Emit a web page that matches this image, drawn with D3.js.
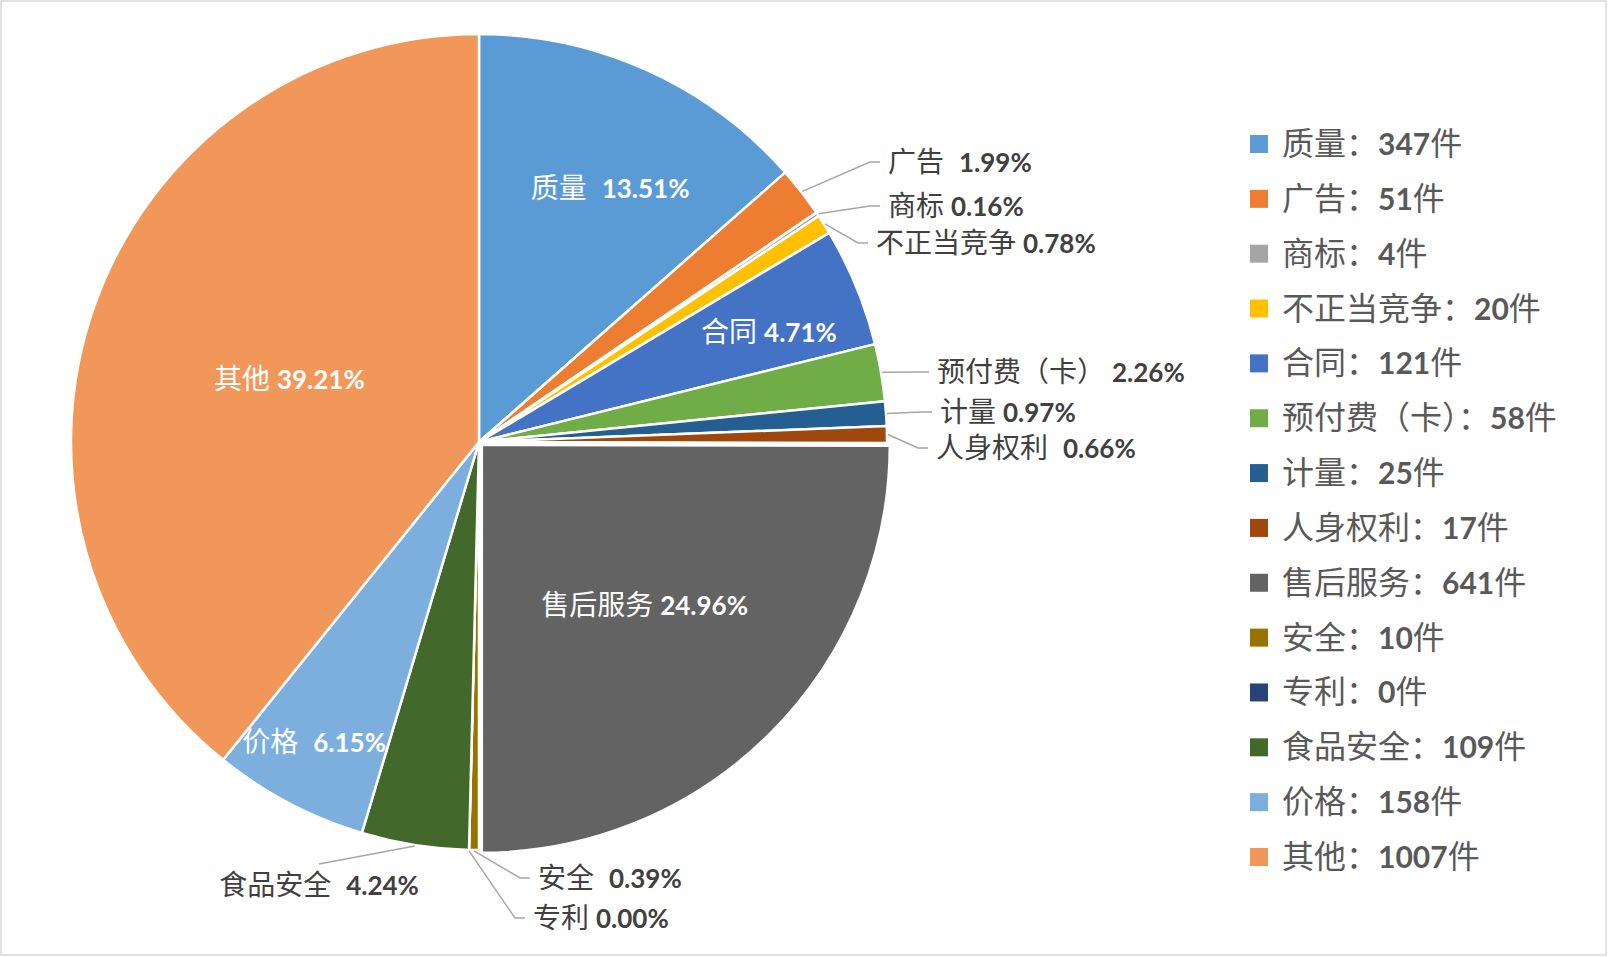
<!DOCTYPE html>
<html>
<head>
<meta charset="utf-8">
<script src="https://cdn.jsdelivr.net/npm/d3@7"></script>
<style>
  body { margin: 0; background: #fff; }
  svg { display: block; }
</style>
</head>
<body>
<div id="app"></div>
<script>
// data
const categories = ['质量', '广告', '商标', '不正当竞争', '合同', '预付费（卡）', '计量',
  '人身权利', '售后服务', '安全', '专利', '食品安全', '价格', '其他']
const counts = [347, 51, 4, 20, 121, 58, 25, 17, 641, 10, 0, 109, 158, 1007]
const colors = ['#5B9BD5', '#ED7D31', '#A5A5A5', '#FFC000', '#4472C4', '#70AD47', '#255E91',
  '#9E480E', '#636363', '#997300', '#264478', '#43682B', '#7CAFDD', '#F1975A']

// labels that have a wider gap between the name and the percent
const wideGap = ['质量', '广告', '人身权利', '安全', '食品安全', '价格']

// layout
const W = 1608, H = 957
const cx = 479, cy = 442, r = 408
const cjk = '"Noto Sans CJK SC", sans-serif'
const num = 'Lato, "Noto Sans", sans-serif'

// inside labels: fraction of the radius and a small turn (degrees) off the bisector
const insideR = {
  '质量': [0.70, 3],
  '合同': [0.76, 1.6],
  '售后服务': [0.56, -0.5],
  '价格': [0.84, 1],
  '其他': [0.49, -1]
}
// outside labels: left x (or centre x for 'below') and middle y
const outside = {
  '广告': [888, 162, 'right'],
  '商标': [888, 206, 'right'],
  '不正当竞争': [876, 243, 'right'],
  '预付费（卡）': [937, 372, 'right'],
  '计量': [940, 412, 'right'],
  '人身权利': [936, 448, 'right'],
  '安全': [538, 878, 'right'],
  '专利': [533, 918, 'right'],
  '食品安全': [319, 885, 'below']
}
const explode = { '售后服务': 4 }

const svg = d3.select('#app').append('svg')
  .attr('width', W)
  .attr('height', H)

svg.append('rect')
  .attr('x', 1).attr('y', 1)
  .attr('width', W - 3).attr('height', H - 3)
  .attr('fill', '#fff')
  .attr('stroke', '#d9d9d9')
  .attr('stroke-width', 1.5)

const data = categories.map((name, i) => ({ name, count: counts[i], color: colors[i] }))
const total = d3.sum(counts)
const pct = d3.format('.2%')

const pie = d3.pie().sort(null).value(d => d.count)
const arcs = pie(data)
const arc = d3.arc().innerRadius(0).outerRadius(r)
const mid = d => (d.startAngle + d.endAngle) / 2
const polar = (a, rad) => [cx + rad * Math.sin(a), cy - rad * Math.cos(a)]

svg.append('g')
  .attr('transform', `translate(${cx},${cy})`)
  .selectAll('path')
  .data(arcs)
  .enter()
  .append('path')
  .attr('d', arc)
  .attr('fill', d => d.data.color)
  .attr('stroke', '#fff')
  .attr('stroke-width', 2.5)
  .attr('stroke-linejoin', 'round')
  .attr('transform', d => {
    const e = explode[d.data.name] || 0
    return `translate(${e * Math.sin(mid(d))},${-e * Math.cos(mid(d))})`
  })

function addLabel(x, y, anchor, fill, d) {
  const t = svg.append('text')
    .attr('x', x)
    .attr('y', y + 10)
    .attr('text-anchor', anchor)
    .attr('fill', fill)
  t.append('tspan')
    .style('font-family', cjk)
    .style('font-size', '28px')
    .text(d.data.name)
  t.append('tspan')
    .attr('dx', wideGap.includes(d.data.name) ? 15 : 7)
    .style('font-family', num)
    .style('font-weight', 'bold')
    .style('font-size', '26px')
    .text(pct(d.data.count / total))
}

// inside labels
arcs.filter(d => insideR[d.data.name]).forEach(d => {
  const [k, turn] = insideR[d.data.name]
  const e = explode[d.data.name] || 0
  const [x, y] = polar(mid(d) + turn * Math.PI / 180, k * r + e)
  addLabel(x, y, 'middle', '#fff', d)
})

// outside labels with leader lines
arcs.filter(d => outside[d.data.name]).forEach(d => {
  const [tx, ty, side] = outside[d.data.name]
  const e = explode[d.data.name] || 0
  const start = polar(mid(d), r + 1 + e)
  let pts
  if (side === 'below') {
    pts = [start, [tx, ty - 21]]
    addLabel(tx, ty, 'middle', '#404040', d)
  } else {
    pts = [start, [tx - 18, ty], [tx - 8, ty]]
    addLabel(tx, ty, 'start', '#404040', d)
  }
  svg.append('path')
    .attr('d', d3.line()(pts))
    .attr('fill', 'none')
    .attr('stroke', '#a6a6a6')
    .attr('stroke-width', 1.5)
})

// legend
const legendY = d3.scalePoint()
  .domain(categories)
  .range([144, 857])

const legend = svg.append('g').attr('id', 'legend')
const item = legend.selectAll('g')
  .data(data)
  .enter()
  .append('g')
  .attr('transform', d => `translate(1250,${legendY(d.name)})`)

item.append('rect')
  .attr('x', 0)
  .attr('y', -9)
  .attr('width', 18)
  .attr('height', 18)
  .attr('fill', d => d.color)

const lt = item.append('text')
  .attr('x', 32)
  .attr('y', 11)
  .attr('fill', '#595959')
lt.append('tspan')
  .style('font-family', cjk)
  .style('font-size', '32px')
  .text(d => d.name + '：')
lt.append('tspan')
  .style('font-family', num)
  .style('font-weight', 'bold')
  .style('font-size', '30px')
  .text(d => d.count)
lt.append('tspan')
  .style('font-family', cjk)
  .style('font-size', '32px')
  .text('件')
</script>
</body>
</html>
